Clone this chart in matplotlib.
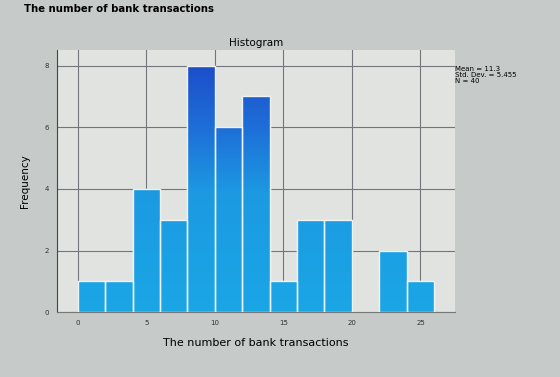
import numpy as np
import matplotlib.pyplot as plt
from matplotlib.colors import LinearSegmentedColormap

# bins of width 2 starting at 0
bin_edges = [0, 2, 4, 6, 8, 10, 12, 14, 16, 18, 20, 22, 24, 26]
counts = [1, 1, 4, 3, 8, 6, 7, 1, 3, 3, 0, 2, 1]
xticks = [0, 5, 10, 15, 20, 25]
yticks = [0, 2, 4, 6, 8]
stats_text = "Mean = 11.3\nStd. Dev. = 5.455\nN = 40"

fig = plt.figure(figsize=(5.6, 3.77), dpi=100)
fig.patch.set_facecolor("#c6cac8")
ax = fig.add_axes([0.102, 0.172, 0.71, 0.695])
ax.set_facecolor("#e1e3e1")

lefts = np.array(bin_edges[:-1])
widths = np.diff(bin_edges)
bars = ax.bar(lefts, counts, width=widths, align="edge", color="#1ea0e2",
              edgecolor="#eef2f2", linewidth=1.0, zorder=3)

# vertical gradient: cyan low, dark blue near the top
cmap = LinearSegmentedColormap.from_list(
    "scr", [(0, "#1aa6e6"), (0.45, "#1c9ae2"), (0.7, "#1e6fd8"), (1, "#1c46c6")])
grad = np.linspace(0, 1, 256).reshape(-1, 1)
for b in bars:
    if b.get_height() == 0:
        continue
    im = ax.imshow(grad, cmap=cmap, origin="lower", aspect="auto",
                   extent=[-1.5, 27.5, 0, 8.5], zorder=3.5)
    im.set_clip_path(b)
    ax.add_patch(plt.Rectangle(b.get_xy(), b.get_width(), b.get_height(),
                               fill=False, edgecolor="#eef2f2", lw=1.0, zorder=4))

ax.set_xlim(-1.5, 27.5)
ax.set_ylim(0, 8.5)
ax.set_xticks(xticks)
ax.set_yticks(yticks)
ax.tick_params(labelsize=5, length=0, colors="#333333", pad=6)
ax.grid(True, color="#72767a", linewidth=0.8, zorder=1)
for s in ["top", "right"]:
    ax.spines[s].set_visible(False)
ax.spines["left"].set_color("#444444")
ax.spines["bottom"].set_color("#777777")

ax.set_ylabel("Frequency", fontsize=7.5, labelpad=10)
ax.set_xlabel("The number of bank transactions", fontsize=8, labelpad=8)
ax.set_title("Histogram", fontsize=7.5, pad=3)

fig.text(0.043, 0.99, "The number of bank transactions", fontsize=7.3,
         fontweight="bold", va="top", ha="left")
fig.text(0.813, 0.825, stats_text, fontsize=5, va="top", ha="left",
         linespacing=1.0)

plt.savefig("out.png", dpi=100, facecolor=fig.get_facecolor())
